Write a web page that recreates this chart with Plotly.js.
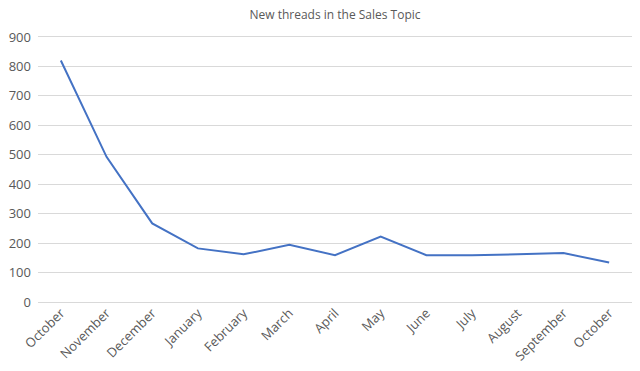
<!DOCTYPE html>
<html>
<head>
<meta charset="utf-8">
<script src="https://cdn.plot.ly/plotly-3.0.1.min.js"></script>
<style>html,body{margin:0;padding:0;background:#fff;}#chart{width:640px;height:371px;}</style>
</head>
<body>
<div id="chart"></div>
<script>
const months = ["October","November","December","January","February","March","April","May","June","July","August","September","October "];
const tickText = ["October","November","December","January","February","March","April","May","June","July","August","September","October"];
const newThreads = [820, 493, 267, 182, 162, 194, 159, 222, 159, 159, 162, 166, 134];
const yTicks = [0,100,200,300,400,500,600,700,800,900];

const trace = {
  x: months,
  y: newThreads,
  type: 'scatter',
  mode: 'lines',
  line: {color: '#4472C4', width: 2},
  hoverinfo: 'x+y'
};

const layout = {
  width: 640,
  height: 371,
  margin: {l: 38, r: 8, t: 34, b: 69},
  paper_bgcolor: '#ffffff',
  plot_bgcolor: '#ffffff',
  showlegend: false,
  font: {family: 'Open Sans, sans-serif', color: '#595959', size: 12},
  title: {
    text: 'New threads in the Sales Topic',
    font: {family: 'Open Sans, sans-serif', size: 12, color: '#595959'},
    x: 0.5, xanchor: 'center', xref: 'paper',
    y: 1 - 15/371, yanchor: 'middle', yref: 'container'
  },
  xaxis: {
    type: 'category',
    tickvals: months,
    ticktext: tickText,
    tickangle: -45,
    showgrid: false,
    showline: false,
    zeroline: false,
    ticks: '',
    tickfont: {size: 13, color: '#595959'},
    range: [-0.5, months.length - 0.5]
  },
  yaxis: {
    range: [0, 910],
    tickvals: yTicks,
    showgrid: true,
    gridcolor: '#d9d9d9',
    gridwidth: 1,
    zeroline: true,
    zerolinecolor: '#d9d9d9',
    zerolinewidth: 1,
    showline: false,
    ticks: '',
    ticklabelstandoff: 6,
    tickfont: {size: 13, color: '#595959'}
  }
};

Plotly.newPlot('chart', [trace], layout, {displayModeBar: false, staticPlot: true});
</script>
</body>
</html>
